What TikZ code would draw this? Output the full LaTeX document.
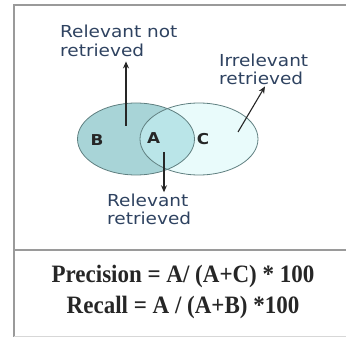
\documentclass[tikz,border=0pt]{standalone}
\usepackage{fontspec}
\usepackage{tikz}
\usetikzlibrary{arrows.meta, positioning, shapes.geometric}
\newfontfamily\verd[FakeStretch=1.12]{DejaVu Sans}
\newfontfamily\tms[FakeStretch=0.92]{Liberation Serif}
\definecolor{labelblue}{HTML}{2E4260}
\definecolor{setdark}{HTML}{A8D4D7}
\definecolor{setmid}{HTML}{BAE5E8}
\definecolor{setpale}{HTML}{E9FBFB}
\definecolor{setline}{HTML}{5F7F80}
\definecolor{framegray}{HTML}{9A9A9A}

\begin{document}
\begin{tikzpicture}[x=1pt, y=-1pt,
      setbox/.style={ellipse, draw=setline, line width=0.8pt, inner sep=0pt,
                     minimum width=117pt, minimum height=72pt},
      lbl/.style={font=\verd\fontsize{16.5}{19}\selectfont, text=labelblue,
                  align=left, inner sep=0pt},
      letter/.style={font=\verd\bfseries\fontsize{15}{16}\selectfont, text=black!85,
                     inner sep=0pt},
      formula/.style={font=\tms\bfseries\fontsize{25}{30}\selectfont,
                      text=black!85, inner sep=0pt},
      arr/.style={-{Stealth[length=7pt, width=6pt]}, line width=1.1pt, black!85},
      frame/.style={framegray, line width=1.5pt}
    ]
    \useasboundingbox (0,0) rectangle (346,337);

    % frame
    \draw[frame] (14,337) -- (14,5) -- (346,5);
    \draw[frame] (14,250) -- (346,250);
    \draw[framegray!40, line width=0.6pt] (14,336) -- (346,336);

    % sets
    \coordinate (cB) at (136,139);
    \coordinate (cC) at (199,139);
    \fill[setdark] (cB) ellipse [x radius=58.5, y radius=36];
    \fill[setpale] (cC) ellipse [x radius=59, y radius=36];
    \begin{scope}
      \clip (cB) ellipse [x radius=58.5, y radius=36];
      \fill[setmid] (cC) ellipse [x radius=59, y radius=36];
    \end{scope}
    \node[setbox] (setB) at (cB) {};
    \node[setbox, minimum width=118pt] (setC) at (cC) {};

    \node[letter] (B) at (97,140) {B};
    \node[letter] (A) at (153.5,138) {A};
    \node[letter] (C) at (203,139) {C};

    % labels (base = last line)
    \node[lbl, anchor=base west] (rnr) at (60,57) {Relevant not\\retrieved};
    \node[lbl, anchor=base west] (irr) at (219,85) {Irrelevant\\retrieved};
    \node[lbl, anchor=base west] (rr) at (107,225) {Relevant\\retrieved};

    % arrows
    \coordinate (pB) at (126,126);
    \coordinate (pA) at (164,152);
    \coordinate (pC) at (238,132);
    \draw[arr] (pB) -- ([yshift=-4pt]pB |- rnr.south);
    \draw[arr] (pA) -- ([yshift=1pt]pA |- rr.north);
    \draw[arr] (pC) -- ([xshift=46pt, yshift=-1pt]irr.south west);

    % measures
    \node[formula, anchor=base] (prec) at (183,282) {Precision = A/ (A+C) * 100};
    \node[formula, anchor=base] (rec) at (183,313) {Recall = A / (A+B) *100};
\end{tikzpicture}
\end{document}
